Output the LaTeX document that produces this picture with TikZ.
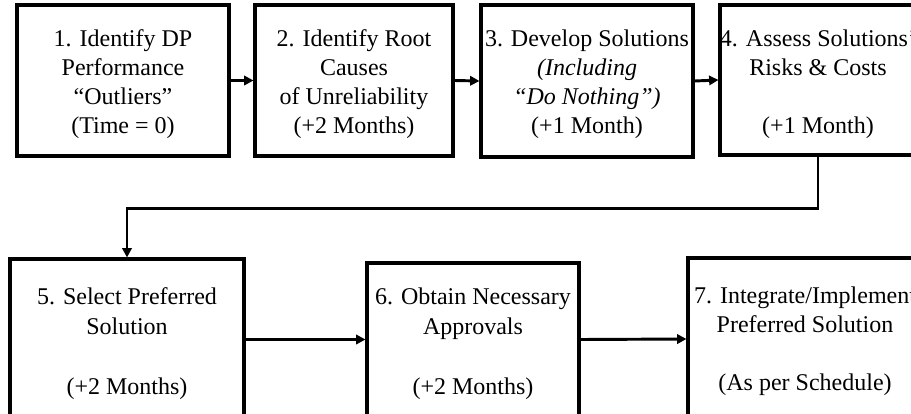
\documentclass[tikz,border=0pt]{standalone}
\usepackage{fontspec}
\setmainfont{Liberation Serif}
\usetikzlibrary{arrows.meta}
\begin{document}
\begin{tikzpicture}[x=0.75pt,y=-0.75pt,
  box/.style={draw=black,line width=2.3pt,rectangle,inner sep=0pt},
  txt/.style={inner sep=0pt,align=center,font=\fontsize{18}{21.75}\selectfont},
  txtb/.style={inner sep=0pt,align=center,font=\fontsize{18}{22.4}\selectfont},
  arr/.style={line width=2.2pt,-{Triangle[length=7pt,width=7pt]}}]
\useasboundingbox (0,0) rectangle (911,414);
\clip (0,0) rectangle (911,414);
% boxes
\node[box,minimum width=212*0.75pt,minimum height=151*0.75pt] (b1) at (123,80.5) {};
\node[box,minimum width=198*0.75pt,minimum height=151*0.75pt] (b2) at (354,80.5) {};
\node[box,minimum width=212*0.75pt,minimum height=152*0.75pt] (b3) at (587,81) {};
\node[box,minimum width=196*0.75pt,minimum height=150*0.75pt] (b4) at (818,80) {};
\node[box,minimum width=234*0.75pt,minimum height=161*0.75pt] (b5) at (127,339.5) {};
\node[box,minimum width=212*0.75pt,minimum height=153*0.75pt] (b6) at (473,339.5) {};
\node[box,minimum width=232*0.75pt,minimum height=162*0.75pt] (b7) at (804,339) {};
% texts
\node[txt] (t1) at (123,84.5) {1. Identify DP\\Performance\\“Outliers”\\(Time = 0)};
\node[txt] (t2) at (354,84.5) {2. Identify Root\\Causes\\of Unreliability\\(+2 Months)};
\node[txt] (t3) at (587,84.5) {3. Develop Solutions\\\textit{(Including}\\\textit{“Do Nothing”)}\\(+1 Month)};
\node[txt] (t4) at (818,84) {4. Assess Solutions’\\Risks \& Costs\\\mbox{}\\(+1 Month)};
\node[txtb] (t5) at (127,343.5) {5. Select Preferred\\Solution\\\mbox{}\\(+2 Months)};
\node[txtb] (t6) at (473,343.5) {6. Obtain Necessary\\Approvals\\\mbox{}\\(+2 Months)};
\node[txt] (t7) at (805,341) {7. Integrate/Implement\\Preferred Solution\\\mbox{}\\(As per Schedule)};
% connectors
\draw[arr] (b1.east) -- (b2.west);
\draw[arr] (b2.east) -- (b3.west);
\draw[arr] (b3.east) -- (b4.west);
\draw[arr] (b4.south) -- ++(0,52) -| (b5.north);
\draw[arr] (b5.east) -- (b6.west);
\draw[arr] (b6.east) -- (b7.west);
\end{tikzpicture}
\end{document}
